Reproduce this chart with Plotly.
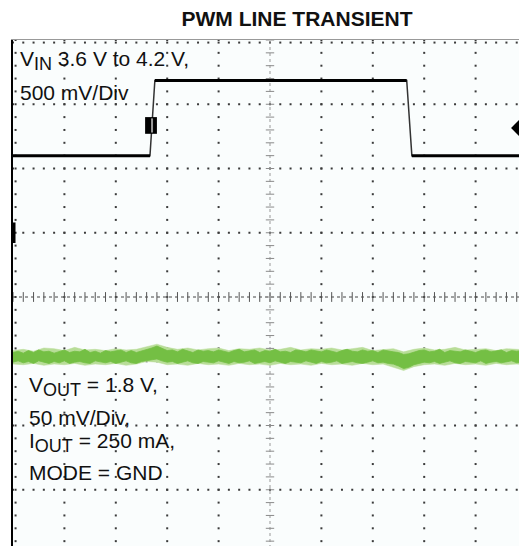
import plotly.graph_objects as go

# ---------------- data ----------------
# time axis in scope divisions
VIN_T = [0.0, 2.665, 2.76, 7.66, 7.76, 10.0]
VIN_V = [3.6, 3.6, 4.185, 4.185, 3.6, 3.6]       # volts

VOUT_NOM = 1.8                                   # volts
NOISE_T = [i * 0.1 for i in range(101)]          # divisions
VOUT_UP_MV = [3.5, 4.5, 3, 5, 3.5, 5.5, 4, 4.5, 3, 4.5,
              5.5, 3.5, 4.5, 4, 6, 3.5, 4.5, 3, 5, 4,
              4.5, 5.5, 3.5, 5, 3.5, 4.5, 5.5, 7, 8.5, 6.5,
              5, 5.5, 4, 6, 4.5, 3.5, 5.5, 4.5, 5, 4,
              5.5, 4.5, 3.5, 5, 6, 4, 4.5, 5.5, 3.5, 5,
              4.5, 6, 4, 4.5, 3.5, 5.5, 5, 4, 5.5, 4.5,
              4, 5.5, 4.5, 3.5, 5, 6, 4.5, 4, 5.5, 4.5,
              5, 3.5, 5.5, 4.5, 4, 3.5, 2, 2.5, 4, 5,
              5.5, 4, 4.5, 6, 3.5, 5, 4.5, 4, 5.5, 4.5,
              3.5, 5, 5.5, 4, 4.5, 5.5, 3.5, 5, 4.5, 5, 4]
VOUT_LO_MV = [-4, -3, -4.5, -3.5, -5, -3, -4, -5, -3.5, -4.5,
              -3, -5, -4, -3.5, -4.5, -5, -3, -4, -4.5, -3.5,
              -5, -4, -3, -4.5, -5, -3.5, -3, -2, -1.5, -3,
              -4, -3.5, -5, -4, -3, -4.5, -5, -3.5, -4, -4.5,
              -3, -4, -5, -3.5, -4.5, -4, -3, -5, -4, -3.5,
              -4.5, -3, -4, -5, -3.5, -4, -4.5, -3, -4, -5,
              -3.5, -4.5, -4, -3, -5, -4, -3.5, -4.5, -5, -4,
              -3, -4.5, -4, -5, -5.5, -7, -9, -8, -6, -5,
              -4, -4.5, -3.5, -5, -4, -3, -4.5, -5, -3.5, -4,
              -4.5, -3, -5, -4, -3.5, -4.5, -4, -3, -4.5, -4, -3.5]
FRINGE_T = [i * 0.2 for i in range(51)]
FRINGE_UP_MV = [5, 6, 4.5, 7, 6.5, 5, 7.5, 5.5, 6, 5,
                6.5, 5.5, 6, 8, 10, 7.5, 6, 7, 5.5, 6.5,
                7, 5, 6.5, 6, 7, 5.5, 6, 7.5, 5.5, 6.5,
                6, 7, 5.5, 6.5, 7.5, 5, 6, 6.5, 4, 6,
                7, 5.5, 6, 7.5, 5.5, 6, 6.5, 5, 6.5, 6, 5.5]
FRINGE_LO_MV = [-5.5, -6, -5, -6.5, -5.5, -6, -5, -6.5, -5.5, -6,
                -5, -6.5, -5.5, -3.5, -4, -6, -5.5, -6.5, -5, -6,
                -5.5, -6.5, -5, -6, -5.5, -6.5, -5, -6, -5.5, -6.5,
                -5, -6, -5.5, -6.5, -5, -6, -5.5, -8, -10.5, -7.5,
                -6, -5.5, -6.5, -5, -6, -5.5, -6.5, -5, -6, -5.5, -6]

TRIG_LEVEL = 3.815   # volts on VIN channel (right-edge marker)
TRIG_POS = 2.685     # trigger position (div)
GND_MARK = 3.0       # channel marker on left edge (volts)

# ---------------- scope scales ----------------
W, H = 519, 546
PLOT_L, PLOT_T = 13, 40          # plot area origin
PX_DIV_X, PX_DIV_Y = 51.4, 64.25  # pixels per division
PLOT_W, PLOT_H = W - PLOT_L, H - PLOT_T
X_MAX = PLOT_W / PX_DIV_X        # visible part of the 10-div screen
Y_MIN = 8 - PLOT_H / PX_DIV_Y    # visible part of the 8-div screen
VIN_C, VIN_DIV = 2.5, 0.5
VOUT_C, VOUT_DIV = 1.8467, 0.05

fig = go.Figure()

# ----- graticule (in division units) -----
DOT = "#3a3a3a"
steps = [k * 0.2 for k in range(0, 51)]
vsteps = steps[:41]
gx, gy = [], []
for k in [1, 2, 3, 4, 6, 7, 8, 9]:
    for s in vsteps:
        gx.append(k); gy.append(s)
for j in [1, 2, 3, 5, 6, 7]:
    for s in steps:
        gx.append(s); gy.append(j)
for s in vsteps:
    gx.append(0.05); gy.append(s)
for s in steps:
    gx.append(s); gy.append(7.96)
fig.add_trace(go.Scatter(x=gx, y=gy, mode="markers", yaxis="y",
                         marker=dict(symbol="square", size=2, color=DOT),
                         hoverinfo="skip", showlegend=False))
# center cross lines
fig.add_trace(go.Scatter(x=[0, 10], y=[4, 4], mode="lines", yaxis="y",
                         line=dict(color="#444", width=1, dash="dot"),
                         hoverinfo="skip", showlegend=False))
fig.add_trace(go.Scatter(x=[5, 5], y=[0, 8], mode="lines", yaxis="y",
                         line=dict(color="#999", width=1, dash="dot"),
                         hoverinfo="skip", showlegend=False))
fig.add_trace(go.Scatter(x=steps, y=[4] * len(steps), mode="markers", yaxis="y",
                         marker=dict(symbol="line-ns", size=7,
                                     line=dict(color="#555", width=1)),
                         hoverinfo="skip", showlegend=False))
fig.add_trace(go.Scatter(x=[5] * len(vsteps), y=vsteps, mode="markers", yaxis="y",
                         marker=dict(symbol="line-ew", size=6,
                                     line=dict(color="#8a8a8a", width=1)),
                         hoverinfo="skip", showlegend=False))

# ----- VOUT (green noise band) -----
LIGHT, GREEN = "#b8dd98", "#74bf44"
fig.add_trace(go.Scatter(x=FRINGE_T, y=[VOUT_NOM + v / 1000 for v in FRINGE_UP_MV],
                         mode="lines", yaxis="y3", line=dict(color=LIGHT, width=0.5),
                         hoverinfo="skip", showlegend=False))
fig.add_trace(go.Scatter(x=FRINGE_T, y=[VOUT_NOM + v / 1000 for v in FRINGE_LO_MV],
                         mode="lines", yaxis="y3", line=dict(color=LIGHT, width=0.5),
                         fill="tonexty", fillcolor=LIGHT,
                         hoverinfo="skip", showlegend=False))
fig.add_trace(go.Scatter(x=NOISE_T, y=[VOUT_NOM + v / 1000 for v in VOUT_UP_MV],
                         mode="lines", yaxis="y3", line=dict(color=GREEN, width=0.8),
                         hoverinfo="skip", showlegend=False))
fig.add_trace(go.Scatter(x=NOISE_T, y=[VOUT_NOM + v / 1000 for v in VOUT_LO_MV],
                         mode="lines", yaxis="y3", line=dict(color=GREEN, width=0.8),
                         fill="tonexty", fillcolor=GREEN,
                         hoverinfo="skip", showlegend=False))

# ----- VIN -----
# thin trace for the fast edges, thick trace for the flat levels
fig.add_trace(go.Scatter(x=VIN_T, y=VIN_V, mode="lines", yaxis="y2",
                         line=dict(color="#333", width=1.5),
                         hoverinfo="skip", showlegend=False))
flat_x, flat_y = [], []
for i in range(len(VIN_T) - 1):
    if VIN_V[i] == VIN_V[i + 1]:
        flat_x += [VIN_T[i], VIN_T[i + 1], None]
        flat_y += [VIN_V[i], VIN_V[i + 1], None]
fig.add_trace(go.Scatter(x=flat_x, y=flat_y, mode="lines", yaxis="y2",
                         line=dict(color="black", width=3),
                         hoverinfo="skip", showlegend=False))
# trigger level marker on right edge
fig.add_trace(go.Scatter(x=[X_MAX + 0.01], y=[TRIG_LEVEL], mode="markers", yaxis="y2",
                         marker=dict(symbol="diamond", size=13, color="black"),
                         hoverinfo="skip", showlegend=False))

# trigger position box
fig.add_shape(type="rect", xref="x", yref="y2", x0=TRIG_POS - 0.115, x1=TRIG_POS + 0.115,
              y0=3.77, y1=3.90, fillcolor="black", line=dict(width=0))
fig.add_shape(type="line", xref="x", yref="y2", x0=TRIG_POS + 0.02, x1=TRIG_POS + 0.02,
              y0=3.78, y1=3.89, line=dict(color="#9a9a9a", width=2))
# channel marker on left edge
fig.add_shape(type="line", xref="paper", yref="y2", x0=0.001, x1=0.001,
              y0=GND_MARK - 0.08, y1=GND_MARK + 0.08,
              line=dict(color="black", width=4))

# ----- text -----
FONT = dict(family="Liberation Sans, Arial, sans-serif", size=21, color="#111")


def sub(s):
    return "<sub><span style='font-size:18px'>" + s + "</span></sub>"


def px2paper(sx, sy):
    return (sx - PLOT_L) / PLOT_W, 1 - (sy - PLOT_T) / PLOT_H


labels = [
    ("V" + sub("IN") + " 3.6 V to 4.2 V,", 18, 60),
    ("500 mV/Div", 18, 92.5),
    ("V" + sub("OUT") + " = 1.8 V,", 27, 386),
    ("50 mV/Div,", 27, 417.5),
    ("I" + sub("OUT") + " = 250 mA,", 27, 442),
    ("MODE = GND", 27, 472.5),
]
for txt, sx, sy in labels:
    ax, ay = px2paper(sx, sy)
    fig.add_annotation(text=txt, xref="paper", yref="paper", x=ax, y=ay,
                       xanchor="left", yanchor="middle", showarrow=False, font=FONT)

fig.update_layout(
    width=W, height=H,
    margin=dict(l=PLOT_L, r=0, t=PLOT_T, b=0),
    paper_bgcolor="white",
    plot_bgcolor="#fafdfd",
    hovermode=False,
    title=dict(text="<b>PWM LINE TRANSIENT</b>", xref="container", yref="container",
               x=297 / W, y=1 - 19 / H, xanchor="center", yanchor="middle",
               font=dict(family="Liberation Sans, Arial, sans-serif", size=21, color="#111")),
    xaxis=dict(range=[0, X_MAX], showgrid=False, zeroline=False, showticklabels=False,
               ticks="", showline=True, mirror=True, linecolor="#999", linewidth=1),
    yaxis=dict(range=[Y_MIN, 8], showgrid=False, zeroline=False, showticklabels=False,
               ticks="", showline=True, linecolor="black", linewidth=2),
    yaxis2=dict(range=[VIN_C + (Y_MIN - 4) * VIN_DIV, VIN_C + 4 * VIN_DIV],
                overlaying="y", visible=False),
    yaxis3=dict(range=[VOUT_C + (Y_MIN - 4) * VOUT_DIV, VOUT_C + 4 * VOUT_DIV],
                overlaying="y", visible=False),
    showlegend=False,
)

# the page has no outer margin and no scrollbars, so the figure fills the window
fig.write_html("out.html",
               config={"displayModeBar": False, "staticPlot": True},
               post_script="document.body.style.margin='0';"
                           "document.documentElement.style.overflow='hidden';")
